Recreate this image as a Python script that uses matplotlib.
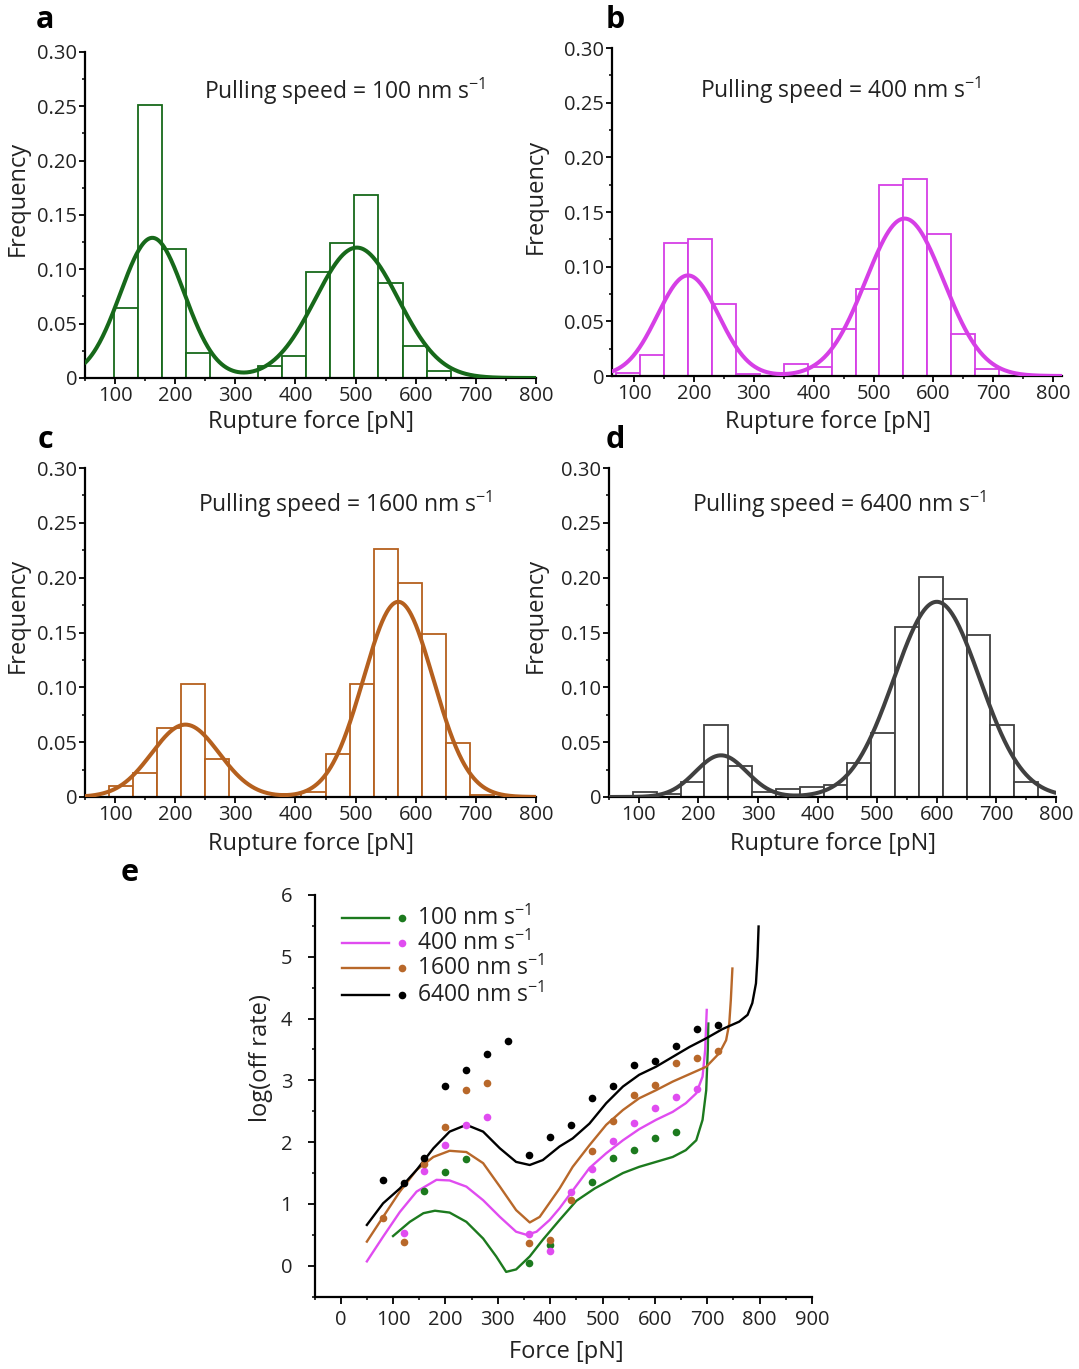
import numpy as np
import matplotlib
matplotlib.use("Agg")
import matplotlib.pyplot as plt
from matplotlib.ticker import MultipleLocator, FuncFormatter

plt.rcParams["font.family"] = ["Open Sans", "DejaVu Sans"]
plt.rcParams["mathtext.fontset"] = "custom"
plt.rcParams["mathtext.rm"] = "Open Sans"
plt.rcParams["mathtext.it"] = "Open Sans:italic"
plt.rcParams["mathtext.default"] = "regular"

# ---------------- histogram data (bin width 40 pN) ----------------
BIN_W = 40
speeds = ["100", "400", "1600", "6400"]

a_start = 98
a_freq = [0.064, 0.251, 0.119, 0.023, 0.0, 0.0, 0.011, 0.020, 0.098, 0.124,
          0.168, 0.087, 0.029, 0.006]
b_start = 70
b_freq = [0.003, 0.019, 0.122, 0.125, 0.066, 0.002, 0.0, 0.011, 0.008, 0.043,
          0.080, 0.175, 0.180, 0.130, 0.038, 0.006]
c_start = 90
c_freq = [0.010, 0.022, 0.063, 0.103, 0.035, 0.0, 0.0, 0.003, 0.005, 0.039,
          0.103, 0.226, 0.195, 0.149, 0.049, 0.002]
d_start = 90
d_freq = [0.005, 0.003, 0.014, 0.066, 0.028, 0.005, 0.007, 0.009, 0.011, 0.031,
          0.058, 0.155, 0.201, 0.181, 0.148, 0.066, 0.014]

# two-peak Gaussian fits: (amplitude, centre, sigma)
a_fit = [(0.129, 162, 53), (0.120, 502, 69)]
b_fit = [(0.092, 190, 51), (0.144, 552, 65)]
c_fit = [(0.066, 217, 56), (0.178, 571, 58)]
d_fit = [(0.038, 238, 43), (0.178, 600, 72)]

# ---------------- panel e: off-rate data ----------------
e_green_x = [160, 200, 240, 360, 400, 480, 520, 560, 600, 640]
e_green_y = [1.21, 1.52, 1.72, 0.04, 0.33, 1.36, 1.74, 1.87, 2.06, 2.17]
e_mag_x = [120, 160, 200, 240, 280, 360, 400, 440, 480, 520, 560, 600, 640, 680]
e_mag_y = [0.53, 1.54, 1.95, 2.28, 2.40, 0.51, 0.23, 1.20, 1.57, 2.02, 2.31,
           2.56, 2.73, 2.86]
e_org_x = [80, 120, 160, 200, 240, 280, 360, 400, 440, 480, 520, 560, 600, 640,
           680, 720]
e_org_y = [0.77, 0.38, 1.64, 2.24, 2.84, 2.96, 0.37, 0.41, 1.07, 1.85, 2.35,
           2.76, 2.92, 3.28, 3.36, 3.48]
e_blk_x = [80, 120, 160, 200, 240, 280, 320, 360, 400, 440, 480, 520, 560, 600,
           640, 680, 720]
e_blk_y = [1.38, 1.34, 1.74, 2.91, 3.16, 3.43, 3.63, 1.79, 2.08, 2.27, 2.72,
           2.91, 3.25, 3.31, 3.55, 3.83, 3.89]

# model curves
c_green_x = [100, 132, 158, 180, 208, 240, 272, 297, 316, 335, 361, 386, 418,
             450, 485, 539, 570, 602, 634, 659, 679, 691, 698, 701, 702]
c_green_y = [0.48, 0.71, 0.85, 0.89, 0.86, 0.71, 0.44, 0.15, -0.10, -0.06,
             0.15, 0.42, 0.74, 1.05, 1.25, 1.50, 1.60, 1.68, 1.76, 1.87, 2.03,
             2.36, 2.84, 3.49, 3.92]
c_mag_x = [50, 81, 113, 145, 183, 208, 240, 272, 304, 335, 355, 374, 399, 418,
           446, 475, 507, 539, 570, 602, 634, 659, 679, 691, 696, 699]
c_mag_y = [0.07, 0.47, 0.87, 1.20, 1.39, 1.38, 1.28, 1.06, 0.79, 0.55, 0.50,
           0.55, 0.74, 0.93, 1.25, 1.58, 1.82, 2.03, 2.21, 2.36, 2.49, 2.63,
           2.79, 3.06, 3.49, 4.14]
c_org_x = [50, 81, 113, 145, 177, 208, 240, 272, 304, 335, 361, 380, 418, 443,
           475, 507, 539, 570, 602, 634, 666, 698, 723, 736, 742, 745, 748]
c_org_y = [0.39, 0.79, 1.20, 1.55, 1.76, 1.86, 1.84, 1.66, 1.28, 0.90, 0.70,
           0.79, 1.25, 1.60, 1.95, 2.28, 2.52, 2.71, 2.84, 2.98, 3.10, 3.22,
           3.44, 3.65, 3.92, 4.30, 4.81]
c_blk_x = [50, 81, 113, 145, 177, 208, 240, 272, 304, 335, 361, 386, 418, 443,
           475, 507, 539, 570, 602, 634, 666, 698, 729, 761, 777, 786, 793, 796,
           798]
c_blk_y = [0.66, 1.01, 1.25, 1.55, 1.90, 2.17, 2.28, 2.17, 1.90, 1.68, 1.63,
           1.71, 1.93, 2.06, 2.30, 2.63, 2.90, 3.09, 3.22, 3.38, 3.54, 3.68,
           3.83, 3.95, 4.06, 4.25, 4.57, 5.00, 5.49]

col_green = "#17691a"
col_mag = "#d63fe6"
col_org = "#b5601e"
col_grey = "#404040"

e_green = "#1c7a1e"
e_mag = "#e04cf0"
e_org = "#b8682a"
e_blk = "#000000"

TXT = "#222222"

# ---------------- figure ----------------
W, H = 1079, 1369
fig = plt.figure(figsize=(W / 100, H / 100), dpi=100)


def rect(left, right, top, bottom):
    return [left / W, 1 - bottom / H, (right - left) / W, (bottom - top) / H]


def style_axes(ax, tick_size=14.5):
    for s in ("top", "right"):
        ax.spines[s].set_visible(False)
    for s in ("left", "bottom"):
        ax.spines[s].set_linewidth(1.6)
    ax.tick_params(which="major", direction="out", length=4, width=1.3,
                   labelsize=tick_size, pad=1.5, labelcolor=TXT)
    ax.tick_params(which="minor", direction="out", length=2.5, width=1.1)


freq_fmt = FuncFormatter(lambda v, p: "0" if abs(v) < 1e-9 else f"{v:.2f}")

hist_panels = [
    # letter, data, fit, colour, xlim, axes box (px), text xy, ylabel xy, xlabel xy, letter xy
    ("a", a_start, a_freq, a_fit, col_green, (50, 800), (85, 536, 52, 378),
     (0.576, 0.88), (-0.122, 0.55), (0.5, -0.097), (45, 20)),
    ("b", b_start, b_freq, b_fit, col_mag, (63, 815), (612, 1062, 48, 376),
     (0.507, 0.87), (-0.142, 0.546), (0.48, -0.104), (615, 20)),
    ("c", c_start, c_freq, c_fit, col_org, (50, 800), (85, 536, 468, 797),
     (0.576, 0.89), (-0.122, 0.553), (0.5, -0.106), (45, 440)),
    ("d", d_start, d_freq, d_fit, col_grey, (50, 800), (609, 1056, 468, 797),
     (0.516, 0.89), (-0.136, 0.553), (0.5, -0.106), (615, 440)),
]

xs_fit = np.linspace(50, 815, 600)
for i, (letter, start, freq, fit, col, xlim, box, txy, ylxy, xlxy, lxy) in enumerate(hist_panels):
    ax = fig.add_axes(rect(*box))
    lefts = start + BIN_W * np.arange(len(freq))
    ax.bar(lefts, freq, width=BIN_W, align="edge", facecolor="white",
           edgecolor=col, linewidth=1.3, zorder=2)
    xf = xs_fit[(xs_fit >= xlim[0]) & (xs_fit <= xlim[1])]
    yf = np.zeros_like(xf)
    for amp, mu, sig in fit:
        yf += amp * np.exp(-(xf - mu) ** 2 / (2 * sig ** 2))
    ax.plot(xf, yf, color=col, lw=2.9, zorder=3, solid_capstyle="round")
    ax.set_xlim(*xlim)
    ax.set_ylim(0, 0.30)
    ax.xaxis.set_major_locator(MultipleLocator(100))
    ax.xaxis.set_minor_locator(MultipleLocator(50))
    ax.yaxis.set_major_locator(MultipleLocator(0.05))
    ax.yaxis.set_minor_locator(MultipleLocator(0.025))
    ax.yaxis.set_major_formatter(freq_fmt)
    style_axes(ax)
    ax.set_xticks([t for t in range(100, 801, 100)])
    ax.text(txy[0], txy[1], "Pulling speed = %s nm s$^{-1}$" % speeds[i],
            transform=ax.transAxes, ha="center", va="center", fontsize=16.5,
            color=TXT)
    ax.set_ylabel("Frequency", fontsize=17, color=TXT)
    ax.yaxis.set_label_coords(*ylxy)
    ax.set_xlabel("Rupture force [pN]", fontsize=17, color=TXT)
    ax.xaxis.set_label_coords(*xlxy)
    fig.text(lxy[0] / W, 1 - lxy[1] / H, letter, fontsize=22, fontweight="bold",
             ha="center", va="center")

# ---------------- panel e ----------------
ax = fig.add_axes(rect(314.5, 812, 895, 1296.6))
for cx, cy, col in ((c_green_x, c_green_y, e_green), (c_mag_x, c_mag_y, e_mag),
                    (c_org_x, c_org_y, e_org), (c_blk_x, c_blk_y, e_blk)):
    ax.plot(cx, cy, color=col, lw=1.7, zorder=2, solid_joinstyle="round")
for px, py, col in ((e_green_x, e_green_y, e_green), (e_mag_x, e_mag_y, e_mag),
                    (e_org_x, e_org_y, e_org), (e_blk_x, e_blk_y, e_blk)):
    ax.plot(px, py, "o", color=col, ms=5.5, mew=0, zorder=3)
ax.set_xlim(-50, 900)
ax.set_ylim(-0.5, 6)
ax.xaxis.set_major_locator(MultipleLocator(100))
ax.xaxis.set_minor_locator(MultipleLocator(50))
ax.yaxis.set_major_locator(MultipleLocator(1))
ax.yaxis.set_minor_locator(MultipleLocator(0.5))
style_axes(ax)
ax.set_xticks(range(0, 901, 100))
ax.set_yticks(range(0, 7))
ax.tick_params(axis="both", which="major", length=5)
ax.tick_params(axis="y", which="major", pad=11)
ax.tick_params(axis="x", which="major", pad=5)
ax.set_ylabel("log(off rate)", fontsize=17, color=TXT)
ax.yaxis.set_label_coords(-0.083, 0.594)
ax.set_xlabel("Force [pN]", fontsize=17, color=TXT)
ax.xaxis.set_label_coords(0.506, -0.108)

legend_rows = [("100", e_green, 0.9425), ("400", e_mag, 0.880),
               ("1600", e_org, 0.818), ("6400", e_blk, 0.751)]
for lab, col, yy in legend_rows:
    ax.plot([0.055, 0.150], [yy, yy], color=col, lw=1.7, transform=ax.transAxes,
            clip_on=False)
    ax.plot([0.175], [yy], "o", color=col, ms=5.5, mew=0, transform=ax.transAxes,
            clip_on=False)
    ax.text(0.207, yy, "%s nm s$^{-1}$" % lab, transform=ax.transAxes,
            fontsize=16.5, va="center", ha="left", color=TXT)

fig.text(130 / W, 1 - 873 / H, "e", fontsize=22, fontweight="bold",
         ha="center", va="center")

fig.savefig("out.png", dpi=100)
